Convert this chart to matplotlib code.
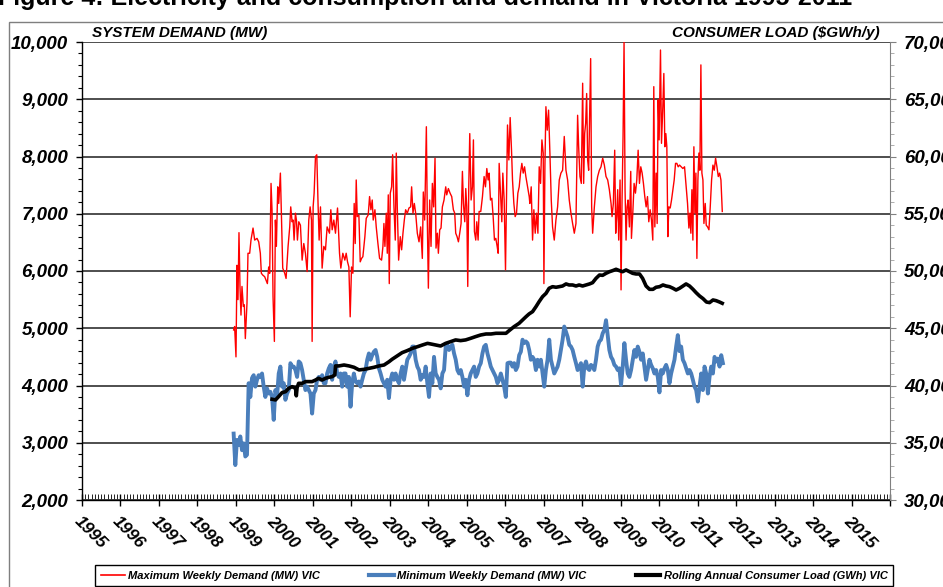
"""
Victorian electricity demand chart
==================================
Weekly max / min system demand (MW) with the rolling annual consumer load (GWh)
on a second axis.
"""

import numpy as np
import matplotlib
matplotlib.use("Agg")
import matplotlib.pyplot as plt
from matplotlib.patches import Rectangle
from matplotlib.lines import Line2D
from matplotlib.ticker import MultipleLocator, FixedLocator, FuncFormatter

# --- data ------------------------------------------------------------------

year_labels = [str(y) for y in range(1995, 2016)]

# Maximum weekly demand (MW), decimal year / value
max_years = [
    1998.941, 1998.967, 1999.002, 1999.028, 1999.054, 1999.080, 1999.106, 1999.132, 1999.158, 1999.193,
    1999.219, 1999.245, 1999.288, 1999.314, 1999.358, 1999.392, 1999.445, 1999.488, 1999.549, 1999.592,
    1999.635, 1999.661, 1999.696, 1999.748, 1999.783, 1999.818, 1999.852, 1999.878, 1999.913, 1999.939,
    1999.965, 2000.000, 2000.026, 2000.052, 2000.087, 2000.113, 2000.156, 2000.182, 2000.217, 2000.269,
    2000.304, 2000.356, 2000.399, 2000.425, 2000.460, 2000.486, 2000.512, 2000.547, 2000.573, 2000.599,
    2000.634, 2000.677, 2000.721, 2000.764, 2000.807, 2000.851, 2000.894, 2000.929, 2000.964, 2000.981,
    2001.007, 2001.033, 2001.068, 2001.102, 2001.137, 2001.163, 2001.198, 2001.241, 2001.285, 2001.328,
    2001.371, 2001.432, 2001.467, 2001.502, 2001.545, 2001.588, 2001.641, 2001.693, 2001.727, 2001.779,
    2001.831, 2001.866, 2001.901, 2001.936, 2001.970, 2002.005, 2002.040, 2002.074, 2002.101, 2002.127,
    2002.153, 2002.196, 2002.231, 2002.266, 2002.300, 2002.352, 2002.387, 2002.439, 2002.474, 2002.509,
    2002.543, 2002.569, 2002.613, 2002.647, 2002.691, 2002.734, 2002.786, 2002.821, 2002.847, 2002.873,
    2002.908, 2002.934, 2002.960, 2002.986, 2003.012, 2003.047, 2003.073, 2003.108, 2003.142, 2003.168,
    2003.194, 2003.229, 2003.272, 2003.307, 2003.342, 2003.377, 2003.411, 2003.455, 2003.498, 2003.541,
    2003.567, 2003.602, 2003.637, 2003.672, 2003.715, 2003.759, 2003.802, 2003.845, 2003.871, 2003.906,
    2003.950, 2003.976, 2004.002, 2004.036, 2004.071, 2004.106, 2004.140, 2004.175, 2004.201, 2004.236,
    2004.262, 2004.297, 2004.331, 2004.366, 2004.409, 2004.453, 2004.479, 2004.522, 2004.566, 2004.609,
    2004.652, 2004.687, 2004.713, 2004.748, 2004.783, 2004.817, 2004.852, 2004.887, 2004.913, 2004.948,
    2004.974, 2005.000, 2005.026, 2005.052, 2005.078, 2005.113, 2005.147, 2005.173, 2005.199, 2005.234,
    2005.260, 2005.295, 2005.321, 2005.364, 2005.408, 2005.451, 2005.486, 2005.521, 2005.555, 2005.581,
    2005.616, 2005.651, 2005.686, 2005.720, 2005.755, 2005.790, 2005.816, 2005.842, 2005.877, 2005.911,
    2005.937, 2005.972, 2006.007, 2006.033, 2006.059, 2006.094, 2006.128, 2006.163, 2006.189, 2006.224,
    2006.258, 2006.293, 2006.328, 2006.363, 2006.397, 2006.432, 2006.467, 2006.502, 2006.536, 2006.580,
    2006.623, 2006.640, 2006.675, 2006.710, 2006.744, 2006.779, 2006.814, 2006.849, 2006.883, 2006.918,
    2006.953, 2006.987, 2007.005, 2007.031, 2007.057, 2007.092, 2007.126, 2007.161, 2007.196, 2007.230,
    2007.274, 2007.317, 2007.361, 2007.404, 2007.447, 2007.491, 2007.534, 2007.578, 2007.621, 2007.664,
    2007.708, 2007.751, 2007.795, 2007.838, 2007.881, 2007.908, 2007.942, 2007.977, 2008.012, 2008.038,
    2008.064, 2008.090, 2008.116, 2008.142, 2008.168, 2008.194, 2008.220, 2008.246, 2008.272, 2008.316,
    2008.359, 2008.402, 2008.446, 2008.489, 2008.533, 2008.576, 2008.619, 2008.663, 2008.706, 2008.750,
    2008.776, 2008.810, 2008.845, 2008.871, 2008.897, 2008.923, 2008.949, 2008.984, 2009.010, 2009.036,
    2009.062, 2009.088, 2009.114, 2009.140, 2009.166, 2009.192, 2009.227, 2009.262, 2009.280, 2009.315,
    2009.349, 2009.384, 2009.419, 2009.454, 2009.488, 2009.523, 2009.558, 2009.592, 2009.627, 2009.662,
    2009.697, 2009.731, 2009.766, 2009.801, 2009.835, 2009.861, 2009.888, 2009.922, 2009.948, 2009.974,
    2010.000, 2010.035, 2010.061, 2010.096, 2010.122, 2010.148, 2010.174, 2010.200, 2010.226, 2010.252,
    2010.287, 2010.322, 2010.356, 2010.391, 2010.426, 2010.460, 2010.495, 2010.530, 2010.573, 2010.617,
    2010.660, 2010.703, 2010.738, 2010.773, 2010.799, 2010.825, 2010.851, 2010.877, 2010.903, 2010.929,
    2010.955, 2010.981, 2011.007, 2011.033, 2011.059, 2011.085, 2011.111, 2011.138, 2011.164, 2011.198,
    2011.224, 2011.259, 2011.294, 2011.328, 2011.363, 2011.398, 2011.433, 2011.467, 2011.502, 2011.537,
    2011.571, 2011.606, 2011.641,
]
max_demand = [
    4970, 5030, 4500, 6100, 5500, 6670, 5730, 5230, 5730, 5380,
    5410, 4820, 5440, 6310, 6310, 6540, 6750, 6540, 6570, 6510,
    6310, 5960, 5930, 5900, 5840, 5780, 6070, 5960, 7530, 7070,
    5550, 4770, 6890, 6430, 7470, 7180, 7710, 7010, 6050, 5960,
    5870, 6430, 6770, 7120, 6860, 6890, 6540, 7010, 6890, 6540,
    6860, 6800, 6190, 6480, 6310, 5990, 6890, 7120, 6890, 4770,
    7120, 7360, 8000, 8030, 7120, 6540, 7120, 6050, 6430, 6370,
    6770, 6660, 7070, 6720, 6890, 6660, 7100, 6310, 6050, 6310,
    6190, 6310, 6160, 6070, 5200, 6070, 5960, 7180, 6480, 7590,
    6950, 6980, 6160, 6220, 6250, 6600, 6920, 6980, 7300, 7070,
    7240, 6890, 7070, 6770, 6480, 6220, 6190, 6430, 6830, 6430,
    7010, 6310, 7330, 5780, 7360, 7470, 8030, 7120, 6540, 8060,
    7120, 6190, 6600, 6370, 6660, 6890, 7070, 7010, 7100, 7120,
    7470, 7010, 7180, 7010, 6660, 6510, 6770, 6220, 7380, 6890,
    8520, 6830, 5700, 7240, 6430, 7530, 7120, 7970, 6400, 6660,
    6310, 6720, 6750, 7120, 7240, 7470, 7330, 7440, 7360, 7300,
    7070, 7010, 6660, 6600, 6510, 6660, 6830, 7740, 7180, 6860,
    7440, 7120, 5730, 7470, 8400, 7240, 7470, 8290, 6690, 6540,
    6860, 6540, 7040, 7040, 7300, 7650, 7470, 7790, 7590, 7710,
    7240, 7270, 6950, 6540, 6570, 6430, 6310, 7880, 7360, 6860,
    7710, 7240, 6020, 7240, 8550, 7940, 8680, 8110, 7590, 7180,
    6950, 7010, 7360, 7470, 7710, 7880, 7710, 7820, 7650, 7470,
    7300, 7180, 7470, 6540, 7070, 6660, 7010, 6660, 7820, 7530,
    8290, 8060, 5780, 7820, 8870, 8460, 8810, 8060, 7240, 6770,
    6540, 6890, 7120, 7590, 7710, 7760, 8350, 7760, 7590, 7240,
    7010, 6830, 6660, 6830, 8720, 8170, 7650, 7530, 9280, 7530,
    8400, 8580, 9100, 7940, 7760, 8700, 9710, 7120, 6660, 7120,
    7470, 7650, 7760, 7820, 7970, 7850, 7650, 7590, 7420, 7180,
    6950, 7180, 8110, 6660, 6950, 7420, 6540, 7590, 5670, 7240,
    8350, 10000, 7420, 6540, 7120, 7240, 6770, 7740, 6570, 7010,
    7530, 7360, 7590, 8110, 7530, 7820, 7710, 7530, 7300, 7120,
    7300, 6860, 7070, 6890, 6540, 9220, 6770, 7710, 6830, 8990,
    8290, 9860, 8230, 8870, 9450, 8170, 8400, 8170, 6600, 7120,
    7100, 7240, 7420, 7590, 7880, 7880, 7820, 7850, 7820, 7790,
    7820, 7470, 7180, 6750, 7010, 6660, 7420, 6540, 8170, 7010,
    7710, 6220, 7590, 8060, 7760, 9600, 7710, 7590, 6830, 7180,
    6800, 6770, 6720, 7120, 7590, 7850, 7760, 7970, 7820, 7650,
    7710, 7590, 7040,
]

# Minimum weekly demand (MW), read every 0.0434 years from the first point
min_start = 1998.941
min_step = 0.0434
min_demand = [
    3160, 2610, 3050, 2960, 3110, 2870, 2990, 2760, 2790, 4040,
    3800, 4130, 4180, 3980, 4100, 4180, 4150, 4210, 3980, 3800,
    3950, 3860, 3890, 3800, 3400, 3920, 3800, 4210, 4330, 3980,
    4040, 3750, 3860, 3920, 4390, 4330, 4330, 4270, 4150, 4420,
    4390, 4270, 4100, 3920, 3980, 3920, 3860, 3510, 3860, 3920,
    4100, 4150, 4100, 4180, 4040,
    4040, 4210, 4300, 4360, 4100, 4330, 4420, 4210, 4150, 4210,
    3980, 4210, 4210, 3980, 4150, 3630, 4040, 4210, 4070, 4040,
    4070, 3980, 4100, 4210, 4270, 4450, 4560, 4450, 4530, 4590,
    4620, 4500, 4300, 4210, 4100, 4040, 3980, 4100, 3780, 4100,
    4210, 4100, 4210, 4100, 4040, 4210, 4330, 4100, 4270, 4450,
    4500, 4560, 4680, 4680, 4450, 4330, 4270, 4100, 4180, 4150,
    4330, 4040, 3800, 4210, 4040, 4500, 4210, 4150, 4100, 3950,
    4210, 4270, 4680, 4710, 4620, 4680, 4710, 4560, 4450, 4270,
    4210, 4270, 4150, 3980, 4100, 3830, 4100, 4210, 4270, 4330,
    4150, 4210, 4330, 4390, 4560, 4680, 4710, 4560, 4450, 4330,
    4270, 4210, 4150, 4040, 4100, 4210, 4100, 3980, 3800, 4390,
    4400, 4400, 4330, 4390, 4270, 4330, 4530, 4590, 4800, 4740,
    4770, 4740, 4620, 4450, 4500, 4450, 4270, 4450, 4330, 4450,
    4210, 3980, 4270, 4450, 4800, 4450, 4330, 4210, 4270, 4330,
    4450, 4620, 4800, 5030, 4940, 4850, 4710, 4680, 4620, 4500,
    4390, 4270, 4330, 4390, 3980, 4330, 4420, 4300, 4270, 4360,
    4330, 4270, 4450, 4680, 4770, 4800, 4910, 4970, 5140, 4880,
    4620, 4500, 4450, 4360, 4330, 4270, 4300, 4010, 4330, 4740,
    4450, 4210, 4150, 4270, 4450, 4620, 4500, 4680, 4590, 4450,
    4560, 4330, 4100, 4270, 4450, 4360, 4300, 4210, 4270, 4150,
    3880, 4270, 4210, 4300, 4360, 4270, 4040, 4210, 4330, 4450,
    4680, 4880, 4600, 4680, 4450, 4390, 4300, 4210, 4270, 4210,
    4100, 3980, 3920, 3720, 3980, 4210, 3920, 4330, 4210, 3860,
    4150, 4330, 4210, 4500, 4420, 4470, 4330, 4530, 4390,
]

# Rolling annual consumer load (GWh), right axis
load_years = [
    1999.94, 2000.03, 2000.11, 2000.20, 2000.29, 2000.37, 2000.46, 2000.55, 2000.57, 2000.59,
    2000.63, 2000.72, 2000.81, 2000.89, 2000.98, 2001.07, 2001.15, 2001.24, 2001.33, 2001.42,
    2001.50, 2001.57, 2001.59, 2001.68, 2001.81, 2001.94, 2002.07, 2002.20, 2002.33, 2002.46,
    2002.59, 2002.72, 2002.85, 2002.98, 2003.06, 2003.19, 2003.32, 2003.45, 2003.59, 2003.72,
    2003.85, 2003.98, 2004.06, 2004.19, 2004.32, 2004.45, 2004.58, 2004.71, 2004.84, 2004.97,
    2005.10, 2005.23, 2005.36, 2005.50, 2005.63, 2005.76, 2005.89, 2006.02, 2006.10, 2006.23,
    2006.36, 2006.45, 2006.54, 2006.62, 2006.71, 2006.80, 2006.88, 2006.97, 2007.06, 2007.14,
    2007.23, 2007.32, 2007.40, 2007.49, 2007.58, 2007.66, 2007.75, 2007.84, 2007.92, 2008.01,
    2008.10, 2008.19, 2008.27, 2008.36, 2008.45, 2008.53, 2008.62, 2008.71, 2008.79, 2008.88,
    2008.97, 2009.05, 2009.14, 2009.23, 2009.31, 2009.40, 2009.49, 2009.57, 2009.66, 2009.75,
    2009.84, 2009.92, 2010.01, 2010.10, 2010.18, 2010.27, 2010.36, 2010.44, 2010.53, 2010.62,
    2010.70, 2010.79, 2010.88, 2010.96, 2011.05, 2011.14, 2011.23, 2011.31, 2011.40, 2011.48,
    2011.57, 2011.64,
]
consumer_load = [
    38800, 38740, 39030, 39380, 39460, 39750, 39900, 39750, 39100, 39800,
    40190, 40190, 40340, 40340, 40340, 40480, 40630, 40480, 40630, 40720,
    40770, 40920, 41710, 41710, 41790, 41710, 41590, 41360, 41410, 41500,
    41590, 41710, 41790, 42080, 42290, 42580, 42870, 43040, 43250, 43390,
    43540, 43680, 43630, 43540, 43450, 43680, 43830, 43980, 43920, 43980,
    44120, 44270, 44410, 44500, 44500, 44560, 44560, 44560, 44790, 45140,
    45430, 45720, 46010, 46250, 46450, 46890, 47320, 47760, 48050, 48490,
    48630, 48580, 48630, 48690, 48870, 48780, 48780, 48690, 48780, 48690,
    48780, 48870, 48980, 49360, 49650, 49620, 49800, 49940, 50030, 50150,
    50030, 49940, 50090, 49940, 49800, 49740, 49740, 49360, 48690, 48400,
    48400, 48580, 48630, 48780, 48690, 48630, 48490, 48340, 48490, 48690,
    48870, 48690, 48400, 48110, 47820, 47590, 47290, 47240, 47470, 47410,
    47290, 47180,
]

# --- styling -----------------------------------------------------------------

W, H = 943, 587
RED = "#ff0000"
BLUE = "#4a7ebb"
GRID = "#404040"
SANS = ["Liberation Sans", "DejaVu Sans"]
BOLD_IT = dict(family=SANS, weight="bold", style="italic")


def fx(px):
    """pixel x -> figure fraction"""
    return px / W


def fy(py):
    """pixel y (from top) -> figure fraction"""
    return 1 - py / H


def style_labels(labels, size):
    for lab in labels:
        lab.set_fontsize(size)
        lab.set_fontweight("bold")
        lab.set_fontstyle("italic")
        lab.set_family(SANS)


def main():
    fig = plt.figure(figsize=(W / 100, H / 100), dpi=100)
    fig.patch.set_facecolor("white")

    # outer chart frame, partly cut off by the picture edge
    fig.add_artist(Rectangle((fx(9), -0.1), 1.2, fy(22) + 0.1, transform=fig.transFigure,
                             fill=False, edgecolor="#7f7f7f", linewidth=1.0))

    # cut-off title at the very top
    fig.text(fx(-2), fy(5), "Figure 4: Electricity and consumption and demand in Victoria 1995-2011",
             fontsize=18, fontweight="bold", family=SANS, va="baseline", ha="left")

    ax = fig.add_axes([fx(82), fy(500), fx(890) - fx(82), fy(42) - fy(500)])
    ax2 = ax.twinx()

    # left axis: demand
    ax.set_xlim(1995, 2016)
    ax.set_ylim(2000, 10000)
    ax.yaxis.set_major_locator(MultipleLocator(1000))
    ax.yaxis.set_minor_locator(MultipleLocator(200))
    ax.yaxis.set_major_formatter(FuncFormatter(lambda v, p: f"{v:,.0f}"))
    ax.grid(True, axis="y", color=GRID, linewidth=1.3)
    ax.set_axisbelow(True)

    ax.xaxis.set_major_locator(FixedLocator(np.arange(1995, 2017)))
    ax.xaxis.set_minor_locator(MultipleLocator(1 / 12))
    ax.set_xticklabels(year_labels + [""], rotation=-45, ha="left", va="top",
                       rotation_mode="anchor", fontsize=12.5, **BOLD_IT)
    ax.tick_params(axis="x", which="major", direction="inout", length=8, width=1, pad=6)
    ax.tick_params(axis="x", which="minor", direction="in", length=4, width=0.6)
    ax.tick_params(axis="y", which="major", direction="out", length=4, width=1, pad=6)
    ax.tick_params(axis="y", which="minor", direction="out", length=3, width=0.8)
    style_labels(ax.get_yticklabels(), 13.5)

    ax.spines["top"].set_visible(False)
    ax.spines["right"].set_visible(False)
    ax.spines["left"].set_linewidth(1.0)
    ax.spines["bottom"].set_linewidth(1.0)

    # right axis: consumer load
    ax2.set_ylim(30000, 70000)
    ax2.yaxis.set_major_locator(MultipleLocator(5000))
    ax2.yaxis.set_minor_locator(MultipleLocator(1000))
    ax2.yaxis.set_major_formatter(FuncFormatter(lambda v, p: f"{v:,.0f}"))
    ax2.tick_params(axis="y", which="major", direction="out", length=4, color="#808080", pad=6)
    ax2.tick_params(axis="y", which="minor", direction="out", length=3, color="#a0a0a0")
    style_labels(ax2.get_yticklabels(), 13.5)
    for side in ["top", "left", "bottom"]:
        ax2.spines[side].set_visible(False)
    ax2.spines["right"].set_color("#808080")
    ax2.spines["right"].set_linewidth(0.8)

    # series
    min_years = min_start + np.arange(len(min_demand)) * min_step
    ax.plot(max_years, max_demand, color=RED, linewidth=1.0, zorder=3)
    ax.plot(min_years, min_demand, color=BLUE, linewidth=2.8, zorder=3, solid_joinstyle="round")
    ax2.plot(load_years, consumer_load, color="black", linewidth=2.6, zorder=4,
             solid_joinstyle="round")

    # axis headers
    fig.text(fx(92), fy(37), "SYSTEM DEMAND (MW)", fontsize=11, ha="left", va="baseline", **BOLD_IT)
    fig.text(fx(880), fy(37), "CONSUMER LOAD ($GWh/y)", fontsize=11, ha="right", va="baseline",
             **BOLD_IT)

    # legend at the bottom, cut by the picture edge
    handles = [
        Line2D([], [], color=RED, linewidth=1.2),
        Line2D([], [], color=BLUE, linewidth=3),
        Line2D([], [], color="black", linewidth=3),
    ]
    labels = [
        "Maximum Weekly Demand (MW) VIC",
        "Minimum Weekly Demand (MW) VIC",
        "Rolling Annual Consumer Load (GWh) VIC",
    ]
    leg = fig.legend(handles, labels, loc="upper left", ncol=3,
                     bbox_to_anchor=(fx(95), 0, fx(893) - fx(95), fy(565)), mode="expand",
                     frameon=True, fancybox=False, edgecolor="black", framealpha=1,
                     borderaxespad=0, handlelength=2.2, handletextpad=0.3, columnspacing=1.0,
                     borderpad=0.5, prop=dict(size=8, **BOLD_IT))
    leg.get_frame().set_linewidth(1.0)

    fig.savefig("out.png", dpi=100)


if __name__ == "__main__":
    main()
